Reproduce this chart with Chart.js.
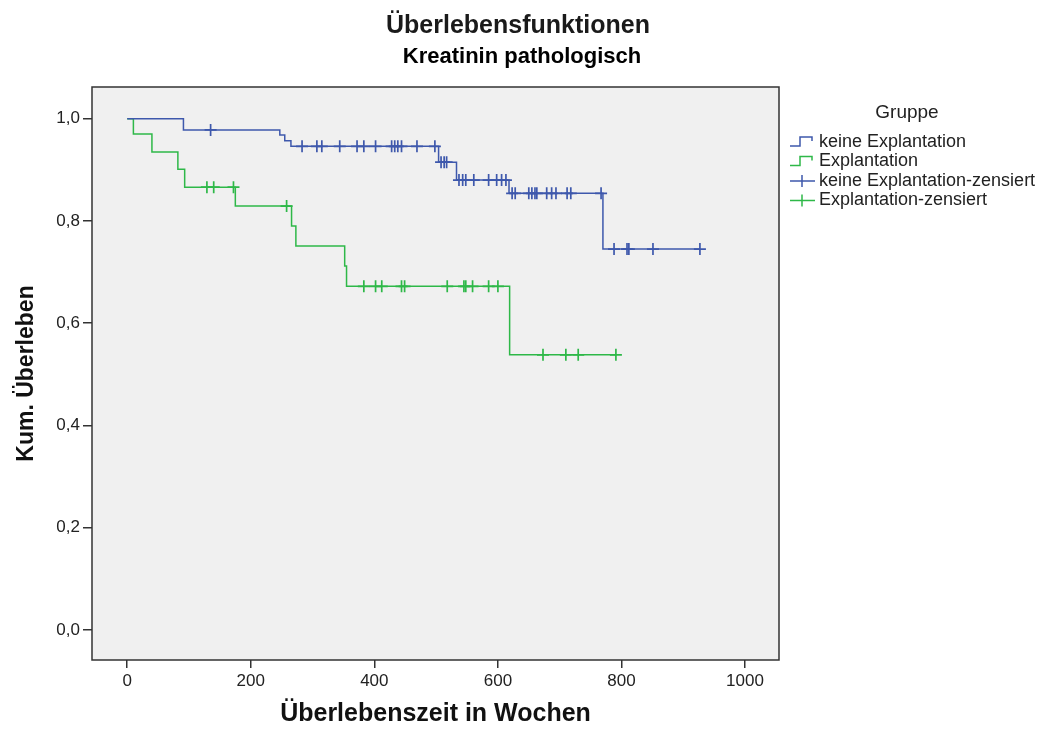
<!DOCTYPE html>
<html>
<head>
<meta charset="utf-8">
<script src="https://cdn.jsdelivr.net/npm/chart.js@4/dist/chart.umd.min.js"></script>
<style>
  html, body { margin: 0; padding: 0; background: #fff; }
  canvas { display: block; }
</style>
</head>
<body>
<canvas id="km" width="1042" height="729"></canvas>
<script>
// keine Explantation: Stufen (Zeit in Wochen, Kum. Überleben)
const blueTimes = [0, 91, 247, 255, 265, 504, 533, 618, 770, 927];
const blueSurv  = [1, 0.978, 0.968, 0.957, 0.946, 0.915, 0.880, 0.854, 0.745, 0.745];

// keine Explantation: zensierte Fälle
const blueCensorTimes = [135, 283, 307, 315, 344, 372, 383, 402, 428, 433, 438, 444, 469, 498,
  508, 513, 517, 537, 543, 548, 561, 585, 598, 606, 613,
  623, 628, 650, 655, 660, 663, 679, 687, 694, 712, 718, 767,
  788, 809, 812, 851, 927];
const blueCensorSurv = [0.978, 0.946, 0.946, 0.946, 0.946, 0.946, 0.946, 0.946, 0.946, 0.946, 0.946, 0.946, 0.946, 0.946,
  0.915, 0.915, 0.915, 0.880, 0.880, 0.880, 0.880, 0.880, 0.880, 0.880, 0.880,
  0.854, 0.854, 0.854, 0.854, 0.854, 0.854, 0.854, 0.854, 0.854, 0.854, 0.854, 0.854,
  0.745, 0.745, 0.745, 0.745, 0.745];

// Explantation: Stufen
const greenTimes = [0, 10, 40, 82, 93, 175, 266, 273, 352, 355, 619, 791];
const greenSurv  = [1, 0.970, 0.935, 0.901, 0.866, 0.829, 0.790, 0.751, 0.712, 0.672, 0.538, 0.538];

// Explantation: zensierte Fälle
const greenCensorTimes = [129, 140, 172, 258, 383, 402, 412, 444, 449, 518, 545, 548, 559, 585, 600, 673, 710, 730, 791];
const greenCensorSurv  = [0.866, 0.866, 0.866, 0.829, 0.672, 0.672, 0.672, 0.672, 0.672, 0.672, 0.672, 0.672, 0.672, 0.672, 0.672,
  0.538, 0.538, 0.538, 0.538];

const xTicks = [0, 200, 400, 600, 800, 1000];
const yTicks = [0, 0.2, 0.4, 0.6, 0.8, 1.0];

const legendLabels = ['keine Explantation', 'Explantation', 'keine Explantation-zensiert', 'Explantation-zensiert'];

const BLUE = '#3E58AC';
const GREEN = '#2EB848';
const FONT = "'Liberation Sans', Arial, sans-serif";

const toPoints = (xs, ys) => xs.map((x, i) => ({ x: x, y: ys[i] }));

// Hintergrund, Rahmen, Titel und Legende
const spssDecor = {
  id: 'spssDecor',
  beforeDraw(chart) {
    const { ctx, chartArea: a } = chart;
    ctx.save();
    ctx.fillStyle = '#ffffff';
    ctx.fillRect(0, 0, chart.width, chart.height);
    ctx.fillStyle = '#f0f0f0';
    ctx.fillRect(a.left, a.top, a.right - a.left, a.bottom - a.top);
    ctx.restore();
  },
  afterDraw(chart) {
    const { ctx, chartArea: a } = chart;
    ctx.save();
    ctx.strokeStyle = '#333';
    ctx.lineWidth = 1.5;
    ctx.strokeRect(a.left, a.top, a.right - a.left, a.bottom - a.top);

    // Titel
    ctx.fillStyle = '#1a1a1a';
    ctx.textAlign = 'center';
    ctx.textBaseline = 'alphabetic';
    ctx.font = 'bold 25px ' + FONT;
    ctx.fillText('Überlebensfunktionen', 518, 33);
    ctx.fillStyle = '#000';
    ctx.font = 'bold 22px ' + FONT;
    ctx.fillText('Kreatinin pathologisch', 522, 63);

    // Legende
    ctx.fillStyle = '#222';
    ctx.font = '19px ' + FONT;
    ctx.fillText('Gruppe', 907, 118);

    const colors = [BLUE, GREEN, BLUE, GREEN];
    const rows = [142, 161.5, 181, 200.5];
    ctx.textAlign = 'left';
    ctx.textBaseline = 'middle';
    ctx.font = '18px ' + FONT;
    legendLabels.forEach((label, i) => {
      const y = rows[i];
      ctx.strokeStyle = colors[i];
      ctx.lineWidth = 1.5;
      ctx.beginPath();
      if (i < 2) {
        ctx.moveTo(790, y + 4);
        ctx.lineTo(800, y + 4);
        ctx.lineTo(800, y - 5);
        ctx.lineTo(812, y - 5);
        ctx.lineTo(812, y - 1);
      } else {
        ctx.moveTo(790, y);
        ctx.lineTo(815, y);
        ctx.moveTo(802, y - 6);
        ctx.lineTo(802, y + 6);
      }
      ctx.stroke();
      ctx.fillStyle = '#222';
      ctx.fillText(label, 819, y);
    });
    ctx.restore();
  }
};

new Chart(document.getElementById('km'), {
  type: 'scatter',
  data: {
    datasets: [
      {
        label: legendLabels[0],
        data: toPoints(blueTimes, blueSurv),
        showLine: true,
        stepped: true,
        borderColor: BLUE,
        borderWidth: 1.5,
        pointRadius: 0
      },
      {
        label: legendLabels[1],
        data: toPoints(greenTimes, greenSurv),
        showLine: true,
        stepped: true,
        borderColor: GREEN,
        borderWidth: 1.5,
        pointRadius: 0
      },
      {
        label: legendLabels[2],
        data: toPoints(blueCensorTimes, blueCensorSurv),
        showLine: false,
        pointStyle: 'cross',
        pointRadius: 6,
        borderColor: BLUE,
        borderWidth: 1.7
      },
      {
        label: legendLabels[3],
        data: toPoints(greenCensorTimes, greenCensorSurv),
        showLine: false,
        pointStyle: 'cross',
        pointRadius: 6,
        borderColor: GREEN,
        borderWidth: 1.7
      }
    ]
  },
  options: {
    responsive: false,
    devicePixelRatio: 1,
    animation: false,
    layout: { padding: { left: 0, top: 87, right: 263, bottom: 0 } },
    plugins: {
      legend: { display: false },
      tooltip: { enabled: false },
      title: { display: false }
    },
    scales: {
      x: {
        type: 'linear',
        min: -57,
        max: 1055,
        afterFit: s => { s.height = 69; },
        afterBuildTicks: s => { s.ticks = xTicks.map(v => ({ value: v })); },
        border: { display: false },
        grid: { drawOnChartArea: false, drawTicks: true, tickLength: 8, color: '#333', lineWidth: 1.5 },
        ticks: {
          color: '#222',
          font: { family: FONT, size: 17 },
          padding: 3,
          maxRotation: 0,
          callback: v => String(v)
        },
        title: {
          display: true,
          text: 'Überlebenszeit in Wochen',
          color: '#111',
          font: { family: FONT, size: 25, weight: 'bold' },
          padding: { top: 0, bottom: 0 }
        }
      },
      y: {
        type: 'linear',
        min: -0.059,
        max: 1.062,
        afterFit: s => { s.width = 92; },
        afterBuildTicks: s => { s.ticks = yTicks.map(v => ({ value: v })); },
        border: { display: false },
        grid: { drawOnChartArea: false, drawTicks: true, tickLength: 9, color: '#333', lineWidth: 1.5 },
        ticks: {
          color: '#222',
          font: { family: FONT, size: 17 },
          padding: 3,
          callback: v => v.toFixed(1).replace('.', ',')
        },
        title: {
          display: true,
          text: 'Kum. Überleben',
          color: '#111',
          font: { family: FONT, size: 23, weight: 'bold' },
          padding: { top: 13, bottom: 0 }
        }
      }
    }
  },
  plugins: [spssDecor]
});
</script>
</body>
</html>
